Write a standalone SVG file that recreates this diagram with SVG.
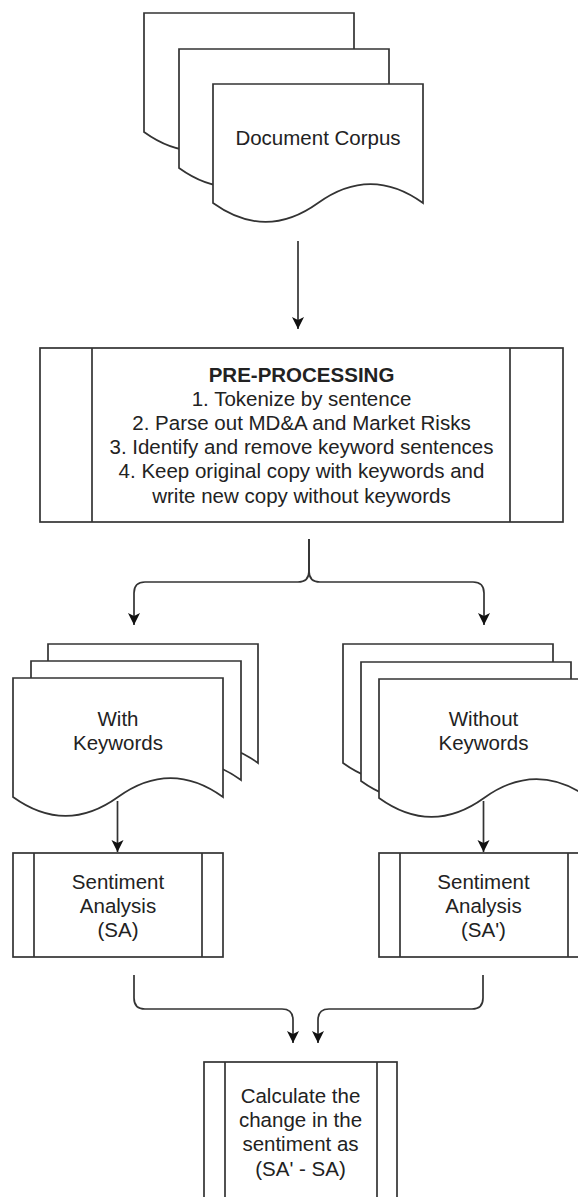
<svg xmlns="http://www.w3.org/2000/svg" xmlns:xlink="http://www.w3.org/1999/xlink" width="578" height="1197" viewBox="0 0 578 1197">
  <style>
    .shape { fill: #ffffff; stroke: #333333; stroke-width: 1.7; }
    .line { fill: none; stroke: #333333; stroke-width: 1.7; }
    .edge { fill: none; stroke: #333333; stroke-width: 1.7; marker-end: url(#arrow); }
    text { font-family: "Liberation Sans", Arial, Helvetica, sans-serif; font-size: 20.5px; fill: #222222; text-anchor: middle; }
    .bold { font-weight: bold; }
  </style>
  <defs>
    <marker id="arrow" markerUnits="userSpaceOnUse" markerWidth="14" markerHeight="14" viewBox="-1 -7 14 14" refX="12" refY="0" orient="auto">
      <path d="M0,-6 L12,0 L0,6 L3,0 Z" fill="#111111" stroke="none"/>
    </marker>
    <path id="doc" class="shape" d="M0,0 H210 V119 Q157.5,81.2 105,119 Q52.5,156.8 0,119 Z"/>
  </defs>
  <rect width="578" height="1197" fill="#ffffff"/>

  <g id="document-corpus">
    <use xlink:href="#doc" x="144" y="13"/>
    <use xlink:href="#doc" x="179" y="49"/>
    <use xlink:href="#doc" x="213" y="84"/>
    <text x="318" y="145">Document Corpus</text>
  </g>

  <g id="pre-processing">
    <rect class="shape" x="40" y="348" width="523" height="174"/>
    <line class="line" x1="92" y1="348" x2="92" y2="522"/>
    <line class="line" x1="510" y1="348" x2="510" y2="522"/>
    <text x="301.5" y="381.5" class="bold">PRE-PROCESSING</text>
    <text x="301.5" y="405.7">1. Tokenize by sentence</text>
    <text x="301.5" y="430">2. Parse out MD&amp;A and Market Risks</text>
    <text x="301.5" y="454.2">3. Identify and remove keyword sentences</text>
    <text x="301.5" y="478.4">4. Keep original copy with keywords and</text>
    <text x="301.5" y="502.7">write new copy without keywords</text>
  </g>

  <g id="with-keywords">
    <use xlink:href="#doc" x="48" y="644"/>
    <use xlink:href="#doc" x="31" y="661"/>
    <use xlink:href="#doc" x="13" y="678"/>
    <text x="118" y="726">With</text>
    <text x="118" y="750">Keywords</text>
  </g>

  <g id="without-keywords">
    <use xlink:href="#doc" x="343" y="644"/>
    <use xlink:href="#doc" x="361" y="662"/>
    <use xlink:href="#doc" x="379" y="679"/>
    <text x="483.5" y="726">Without</text>
    <text x="483.5" y="750">Keywords</text>
  </g>

  <g id="sentiment-sa">
    <rect class="shape" x="13" y="853" width="210" height="104"/>
    <line class="line" x1="34" y1="853" x2="34" y2="957"/>
    <line class="line" x1="202" y1="853" x2="202" y2="957"/>
    <text x="118" y="888.5">Sentiment</text>
    <text x="118" y="912.8">Analysis</text>
    <text x="118" y="937">(SA)</text>
  </g>

  <g id="sentiment-sa-prime">
    <rect class="shape" x="379" y="853" width="210" height="104"/>
    <line class="line" x1="400" y1="853" x2="400" y2="957"/>
    <line class="line" x1="568" y1="853" x2="568" y2="957"/>
    <text x="483.5" y="888.5">Sentiment</text>
    <text x="483.5" y="912.8">Analysis</text>
    <text x="483.5" y="937">(SA')</text>
  </g>

  <g id="calculate-change">
    <rect class="shape" x="204" y="1062" width="193" height="150"/>
    <line class="line" x1="225" y1="1062" x2="225" y2="1212"/>
    <line class="line" x1="377" y1="1062" x2="377" y2="1212"/>
    <text x="300.5" y="1102.7">Calculate the</text>
    <text x="300.5" y="1127">change in the</text>
    <text x="300.5" y="1151.3">sentiment as</text>
    <text x="300.5" y="1175.6">(SA' - SA)</text>
  </g>

  <g id="connectors">
    <path class="edge" d="M298,241 L298,329"/>
    <path class="edge" d="M309,539 L309,571 Q309,582 298,582 L145,582 Q134,582 134,593 L134,625"/>
    <path class="edge" d="M309,539 L309,571 Q309,582 320,582 L473,582 Q484,582 484,593 L484,625"/>
    <path class="edge" d="M117.5,801 L117.5,852"/>
    <path class="edge" d="M483.5,801 L483.5,852"/>
    <path class="edge" d="M134,975 L134,998 Q134,1009 145,1009 L282,1009 Q293,1009 293,1020 L293,1043"/>
    <path class="edge" d="M483,975 L483,998 Q483,1009 472,1009 L329,1009 Q318,1009 318,1020 L318,1043"/>
  </g>
</svg>
